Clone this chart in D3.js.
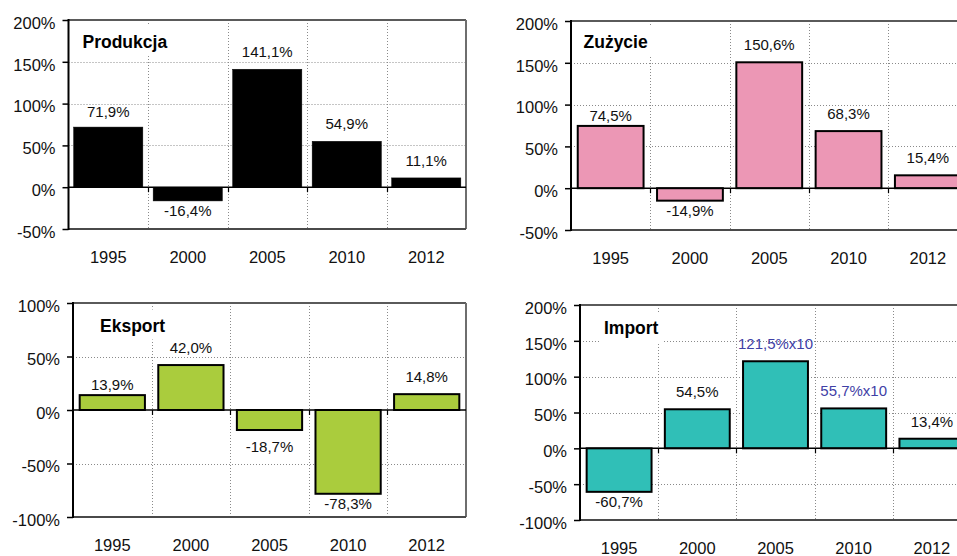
<!DOCTYPE html>
<html>
<head>
<meta charset="utf-8">
<script src="https://cdn.jsdelivr.net/npm/d3@7"></script>
<style>
  html, body { margin: 0; padding: 0; background: #fff; }
  svg { display: block; font-family: "Liberation Sans", Arial, sans-serif; }
</style>
</head>
<body>
<svg id="chart" width="957" height="556"></svg>
<script>
// ---- data ----
const categories = ["1995", "2000", "2005", "2010", "2012"];
const produkcja = [71.9, -16.4, 141.1, 54.9, 11.1];
const zuzycie = [74.5, -14.9, 150.6, 68.3, 15.4];
const eksport = [13.9, 42.0, -18.7, -78.3, 14.8];
const importVals = [-60.7, 54.5, 121.5, 55.7, 13.4];
const importLabelSuffix = ["", "", "x10", "x10", ""];
const ticksProdukcja = [-50, 0, 50, 100, 150, 200];
const ticksZuzycie = [-50, 0, 50, 100, 150, 200];
const ticksEksport = [-100, -50, 0, 50, 100];
const ticksImport = [-100, -50, 0, 50, 100, 150, 200];
const titles = ["Produkcja", "Zużycie", "Eksport", "Import"];

// ---- layout ----
const panels = [
  { title: titles[0], values: produkcja, ticks: ticksProdukcja, suffix: null,
    left: 68.5, right: 466, top: 20, bottom: 229,
    fill: "#000000", stroke: "#000000", strokeW: 0.5, pad: 0.13,
    tx: 82.5, ty: 47.5, nudge: [2, 0, 0, 0, 0] },
  { title: titles[1], values: zuzycie, ticks: ticksZuzycie, suffix: null,
    left: 571, right: 967.5, top: 21, bottom: 230,
    fill: "#EC97B5", stroke: "#000000", strokeW: 2, pad: 0.17,
    tx: 583.5, ty: 47.5, nudge: [7, 0, 0, 0, 0] },
  { title: titles[2], values: eksport, ticks: ticksEksport, suffix: null,
    left: 73, right: 466, top: 303, bottom: 517,
    fill: "#AACC3D", stroke: "#000000", strokeW: 2, pad: 0.17,
    tx: 100, ty: 331.5, nudge: [7, 0, 6, 0, 0] },
  { title: titles[3], values: importVals, ticks: ticksImport, suffix: importLabelSuffix,
    left: 580, right: 971, top: 305, bottom: 520,
    fill: "#30BFB7", stroke: "#000000", strokeW: 2, pad: 0.17,
    tx: 604, ty: 334, nudge: [0, 0, 0, 0, 0] }
];

const svg = d3.select("#chart");
const fmt = v => v.toFixed(1).replace(".", ",") + "%";

panels.forEach(p => {
  const g = svg.append("g");
  const x = d3.scaleBand().domain(categories).range([p.left, p.right]).padding(0);
  const ext = d3.extent(p.ticks);
  const y = d3.scaleLinear().domain(ext).range([p.bottom, p.top]);
  const step = x.bandwidth();

  // horizontal gridlines
  g.selectAll(".hgrid").data(p.ticks.filter(t => t !== 0 && t !== ext[0] && t !== ext[1]))
    .join("line")
    .attr("x1", p.left).attr("x2", p.right)
    .attr("y1", d => Math.round(y(d)) + 0.5).attr("y2", d => Math.round(y(d)) + 0.5)
    .attr("stroke", "#8a8a8a").attr("stroke-width", 1).attr("stroke-dasharray", "1,2");

  // vertical gridlines at category boundaries
  g.selectAll(".vgrid").data(categories.slice(1))
    .join("line")
    .attr("x1", d => Math.round(x(d)) + 0.5).attr("x2", d => Math.round(x(d)) + 0.5)
    .attr("y1", p.top).attr("y2", p.bottom)
    .attr("stroke", "#8a8a8a").attr("stroke-width", 1).attr("stroke-dasharray", "1,2");

  // title box + title
  const title = g.append("text")
    .attr("x", p.tx).attr("y", p.ty)
    .attr("font-size", "17.5px").attr("font-weight", "bold").attr("fill", "#000")
    .text(p.title);
  const tw = title.node().getComputedTextLength();
  g.insert("rect", "text")
    .attr("x", p.tx - 4).attr("y", p.ty - 22)
    .attr("width", tw + 8).attr("height", 30)
    .attr("fill", "#fff");

  // frame: top, right, bottom
  g.append("line").attr("x1", p.left).attr("x2", p.right)
    .attr("y1", p.top).attr("y2", p.top).attr("stroke", "#5a5a5a").attr("stroke-width", 2);
  g.append("line").attr("x1", p.right).attr("x2", p.right)
    .attr("y1", p.top).attr("y2", p.bottom).attr("stroke", "#6e6e6e").attr("stroke-width", 2);
  g.append("line").attr("x1", p.left).attr("x2", p.right)
    .attr("y1", p.bottom).attr("y2", p.bottom).attr("stroke", "#4a4a4a").attr("stroke-width", 2);

  // bars
  const bw = step * (1 - p.pad);
  g.selectAll(".bar").data(p.values)
    .join("rect")
    .attr("x", (d, i) => x(categories[i]) + (step - bw) / 2)
    .attr("width", bw)
    .attr("y", d => y(Math.max(0, d)))
    .attr("height", d => Math.abs(y(d) - y(0)))
    .attr("fill", p.fill)
    .attr("stroke", p.stroke).attr("stroke-width", p.strokeW);

  // zero line
  g.append("line").attr("x1", p.left).attr("x2", p.right)
    .attr("y1", y(0)).attr("y2", y(0)).attr("stroke", "#000").attr("stroke-width", 1.5);
  // category ticks at zero line
  g.selectAll(".ctick").data(categories.slice(1))
    .join("line")
    .attr("x1", d => Math.round(x(d)) + 0.5).attr("x2", d => Math.round(x(d)) + 0.5)
    .attr("y1", y(0)).attr("y2", y(0) + 5)
    .attr("stroke", "#000").attr("stroke-width", 1.2);

  // value labels
  g.selectAll(".vlabel").data(p.values)
    .join("text")
    .attr("x", (d, i) => x(categories[i]) + step / 2)
    .attr("y", (d, i) => (d >= 0 ? y(d) - 12 : y(d) + 15.5) + p.nudge[i])
    .attr("text-anchor", "middle")
    .attr("font-size", "15px")
    .attr("fill", (d, i) => (p.suffix && p.suffix[i]) ? "#3F40A6" : "#111")
    .text((d, i) => fmt(d) + (p.suffix ? p.suffix[i] : ""));

  // y axis
  const ax = g.append("g")
    .attr("transform", `translate(${p.left},0)`)
    .call(d3.axisLeft(y).tickValues(p.ticks).tickSize(6).tickPadding(7).tickFormat(d => d + "%"));
  ax.select(".domain").remove();
  ax.selectAll(".tick line").attr("stroke", "#000").attr("stroke-width", 1.5);
  ax.selectAll(".tick text")
    .attr("font-size", "16.5px").attr("font-family", "Liberation Sans, Arial, sans-serif")
    .attr("fill", "#111").attr("dy", "0.5em");
  g.append("line").attr("x1", p.left).attr("x2", p.left)
    .attr("y1", p.top - 1).attr("y2", p.bottom + 1).attr("stroke", "#000").attr("stroke-width", 2);

  // category labels
  g.selectAll(".clabel").data(categories)
    .join("text")
    .attr("x", d => x(d) + step / 2)
    .attr("y", p.bottom + 34)
    .attr("text-anchor", "middle")
    .attr("font-size", "16.5px")
    .attr("fill", "#111")
    .text(d => d);
});
</script>
</body>
</html>
